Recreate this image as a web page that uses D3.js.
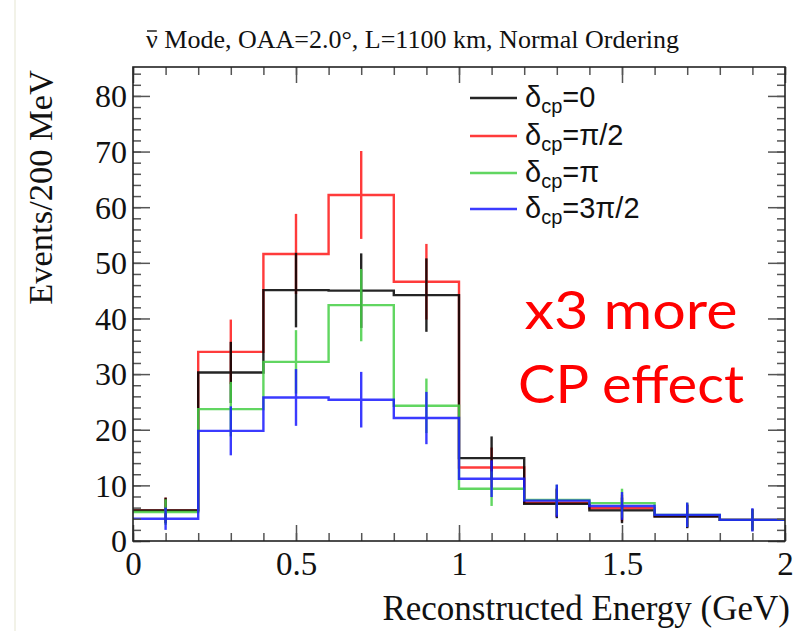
<!DOCTYPE html>
<html><head><meta charset="utf-8">
<script src="https://cdn.jsdelivr.net/npm/d3@7"></script>
<style>body{margin:0;background:#fff}</style>
</head><body><svg id="c" width="805" height="631"></svg>
<script>
// ---- data ----
const binEdges = [0, 0.2, 0.4, 0.6, 0.8, 1.0, 1.2, 1.4, 1.6, 1.8, 2.0];
const legendLabels = ["=0", "=\u03C0/2", "=\u03C0", "=3\u03C0/2"];
const valuesDcp0    = [5.5, 30.3, 45.1, 45.0, 44.2, 14.9, 6.7, 5.5, 4.4, 3.8];
const errorsDcp0    = [2.3, 5.5, 6.7, 6.7, 6.6, 3.9, 2.6, 2.3, 2.1, 1.9];
const valuesDcpPi2  = [5.5, 34.0, 51.6, 62.2, 46.6, 13.2, 6.9, 5.9, 4.5, 3.8];
const errorsDcpPi2  = [2.3, 5.8, 7.2, 7.9, 6.8, 3.6, 2.6, 2.4, 2.1, 1.9];
const valuesDcpPi   = [5.2, 23.7, 32.2, 42.4, 24.3, 9.4, 7.4, 6.8, 4.7, 3.8];
const errorsDcpPi   = [2.3, 4.9, 5.7, 6.5, 4.9, 3.1, 2.7, 2.6, 2.2, 1.9];
const valuesDcp3Pi2 = [4.0, 19.8, 25.8, 25.4, 22.1, 11.2, 7.25, 6.3, 4.7, 3.8];
const errorsDcp3Pi2 = [2.0, 4.4, 5.1, 5.0, 4.7, 3.3, 2.9, 2.5, 2.2, 2.1];
const xMajorTicks = [0, 0.5, 1, 1.5, 2];
const xTickLabels = ["0", "0.5", "1", "1.5", "2"];
const yMajorTicks = [0, 10, 20, 30, 40, 50, 60, 70, 80];
const yTickLabels = ["0", "10", "20", "30", "40", "50", "60", "70", "80"];
const titleNu = "\u03BD";
const titleRest = " Mode, OAA=2.0\u00B0, L=1100 km, Normal Ordering";
const xTitle = "Reconstructed Energy (GeV)";
const yTitle = "Events/200 MeV";
const noteLines = ["x3 more", "CP effect"];

const series = [
  {key: "dcp0",  values: valuesDcp0,    errors: errorsDcp0,    color: "#000000", label: legendLabels[0]},
  {key: "pi2",   values: valuesDcpPi2,  errors: errorsDcpPi2,  color: "#ff1a1a", label: legendLabels[1]},
  {key: "pi",    values: valuesDcpPi,   errors: errorsDcpPi,   color: "#46d046", label: legendLabels[2]},
  {key: "3pi2",  values: valuesDcp3Pi2, errors: errorsDcp3Pi2, color: "#1a1aff", label: legendLabels[3]}
];
const drawOrder = [1, 0, 2, 3];

// ---- layout ----
const L = 133, R = 785, T = 67, B = 541;
const svg = d3.select("#c");
svg.append("rect").attr("width", 805).attr("height", 631).attr("fill", "#fff");
svg.append("line").attr("x1", 15).attr("x2", 15).attr("y1", 0).attr("y2", 631)
  .attr("stroke", "#eeeee0").attr("stroke-width", 1.5);

const x = d3.scaleLinear().domain([0, 2]).range([L, R]);
const y = d3.scaleLinear().domain([0, 85.2]).range([B, T]);

const serif = "'Liberation Serif', 'Times New Roman', serif";
const sans = "'Liberation Sans', Arial, Helvetica, sans-serif";

// histograms
const stepLine = d3.line().x(d => x(d[0])).y(d => y(d[1])).curve(d3.curveStepAfter);
const gH = svg.append("g");
drawOrder.forEach(si => {
  const s = series[si];
  const pts = s.values.map((v, i) => [binEdges[i], v]);
  pts.push([binEdges[binEdges.length - 1], s.values[s.values.length - 1]]);
  const g = gH.append("g").attr("opacity", 0.85);
  g.append("path").attr("d", stepLine(pts)).attr("fill", "none")
    .attr("stroke", s.color).attr("stroke-width", 2.4);
  g.selectAll("line.err").data(s.values).enter().append("line")
    .attr("x1", (v, i) => x((binEdges[i] + binEdges[i + 1]) / 2))
    .attr("x2", (v, i) => x((binEdges[i] + binEdges[i + 1]) / 2))
    .attr("y1", (v, i) => y(v - s.errors[i]))
    .attr("y2", (v, i) => y(v + s.errors[i]))
    .attr("stroke", s.color).attr("stroke-width", 2.4);
});

// axes (ticks inside on all four sides)
const tickColor = "#555";
function styleAxis(g) {
  g.select(".domain").remove();
  g.selectAll(".tick line").attr("stroke", tickColor).attr("stroke-width", 1.5);
}
const xMinorVals = d3.range(0, 21).map(i => i / 10);
const yMinorVals = d3.range(0, 43).map(i => i * 2);

svg.append("g").attr("transform", `translate(0,${B})`)
  .call(d3.axisBottom(x).tickValues(xMinorVals).tickSize(-8).tickFormat("")).call(styleAxis);
const xMaj = svg.append("g").attr("transform", `translate(0,${B})`)
  .call(d3.axisBottom(x).tickValues(xMajorTicks).tickSize(-16)
    .tickFormat((d, i) => xTickLabels[i]).tickPadding(10)).call(styleAxis);
xMaj.selectAll("text").attr("font-family", serif).attr("font-size", 33)
  .attr("fill", "#111").attr("y", 34).attr("dy", 0);

svg.append("g").attr("transform", `translate(0,${T})`)
  .call(d3.axisTop(x).tickValues(xMinorVals).tickSize(-8).tickFormat("")).call(styleAxis);
svg.append("g").attr("transform", `translate(0,${T})`)
  .call(d3.axisTop(x).tickValues(xMajorTicks).tickSize(-16).tickFormat("")).call(styleAxis);

svg.append("g").attr("transform", `translate(${L},0)`)
  .call(d3.axisLeft(y).tickValues(yMinorVals).tickSize(-8).tickFormat("")).call(styleAxis);
const yMaj = svg.append("g").attr("transform", `translate(${L},0)`)
  .call(d3.axisLeft(y).tickValues(yMajorTicks).tickSize(-17)
    .tickFormat((d, i) => yTickLabels[i]).tickPadding(6)).call(styleAxis);
yMaj.selectAll("text").attr("font-family", serif).attr("font-size", 32)
  .attr("fill", "#111").attr("x", -6).attr("dy", "0.34em");

svg.append("g").attr("transform", `translate(${R},0)`)
  .call(d3.axisRight(y).tickValues(yMinorVals).tickSize(-8).tickFormat("")).call(styleAxis);
svg.append("g").attr("transform", `translate(${R},0)`)
  .call(d3.axisRight(y).tickValues(yMajorTicks).tickSize(-17).tickFormat("")).call(styleAxis);

// frame
svg.append("rect").attr("x", L).attr("y", T).attr("width", R - L).attr("height", B - T)
  .attr("fill", "none").attr("stroke", "#222").attr("stroke-width", 1.6);

// titles
const title = svg.append("text").attr("x", 146).attr("y", 48).attr("font-family", serif)
  .attr("font-size", 26).attr("fill", "#111");
const nuSpan = title.append("tspan").text(titleNu);
title.append("tspan").text(titleRest);
const nuLen = nuSpan.node().getComputedTextLength();
svg.append("line").attr("x1", 147).attr("x2", 146 + nuLen - 1)
  .attr("y1", 31).attr("y2", 31).attr("stroke", "#111").attr("stroke-width", 1.4);

svg.append("text").attr("x", 790).attr("y", 620).attr("text-anchor", "end")
  .attr("font-family", serif).attr("font-size", 35).attr("fill", "#111").text(xTitle);
svg.append("text").attr("transform", "translate(52,70) rotate(-90)").attr("text-anchor", "end")
  .attr("font-family", serif).attr("font-size", 34.5).attr("fill", "#111").text(yTitle);

// legend
const legY = [98, 136, 173, 209];
series.forEach((s, i) => {
  svg.append("line").attr("x1", 470).attr("x2", 517).attr("y1", legY[i]).attr("y2", legY[i])
    .attr("stroke", s.color).attr("stroke-width", 2.4).attr("opacity", 0.85);
  const t = svg.append("text").attr("x", 525).attr("y", legY[i] + 9)
    .attr("font-family", sans).attr("font-size", 29).attr("fill", "#111");
  t.append("tspan").text("\u03B4");
  t.append("tspan").attr("font-size", 20).attr("dy", 6).text("cp");
  t.append("tspan").attr("dy", -6).text(s.label);
});

// annotation
const noteY = [329, 403];
const noteWidth = [213, 226];
noteLines.forEach((line, i) => {
  svg.append("text").attr("x", 631).attr("y", noteY[i]).attr("text-anchor", "middle")
    .attr("font-family", "Lato, 'Open Sans', sans-serif").attr("font-size", 52)
    .attr("textLength", noteWidth[i]).attr("lengthAdjust", "spacingAndGlyphs")
    .attr("fill", "#ff0000").text(line);
});
</script></body></html>
